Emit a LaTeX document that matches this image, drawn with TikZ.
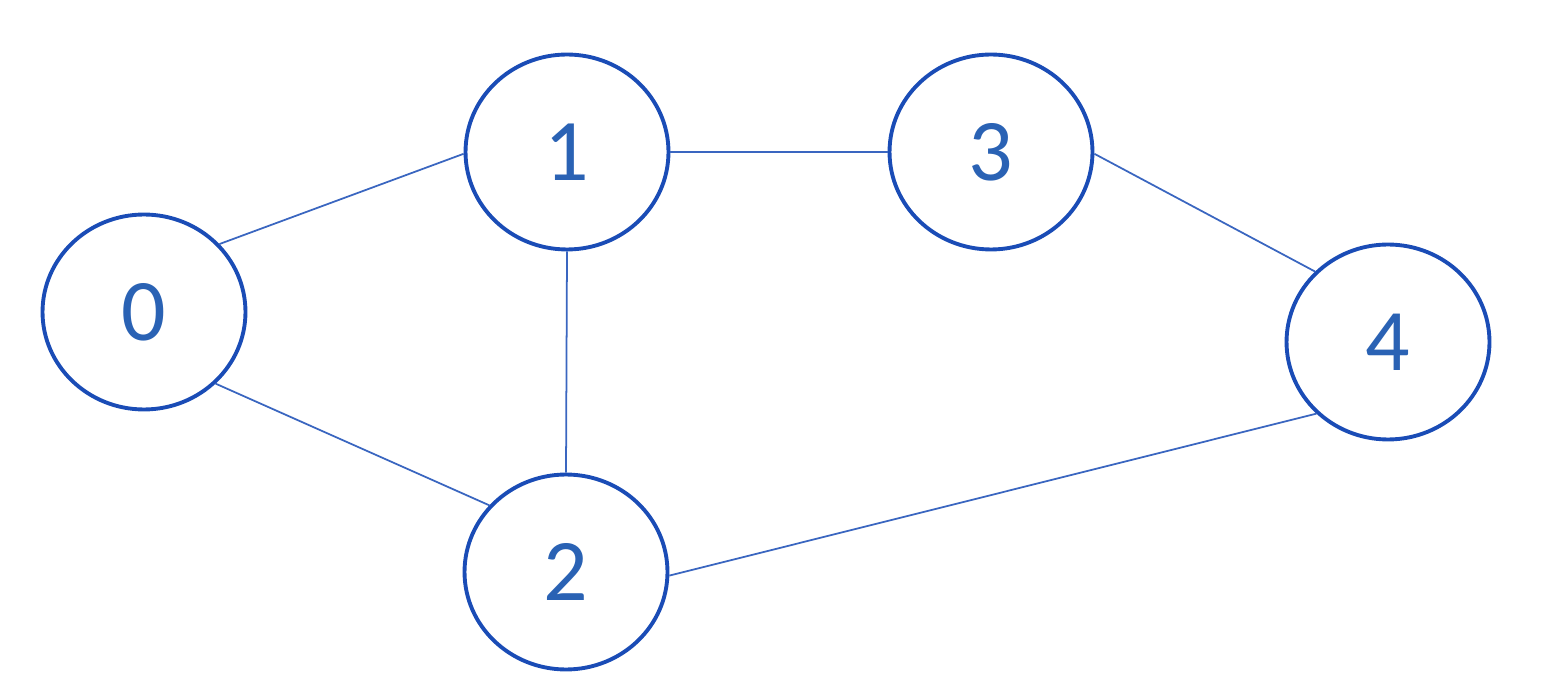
\documentclass[tikz,border=0pt]{standalone}
\usepackage{fontspec}
\setmainfont{Carlito}
\usepackage{xcolor}
\usetikzlibrary{shapes.geometric}
\definecolor{ringblue}{HTML}{1A4CB6}
\definecolor{digitblue}{HTML}{2A62B4}
\definecolor{edgeblue}{HTML}{3A66C0}

\begin{document}
\begin{tikzpicture}[x=0.02cm, y=-0.02cm,
  vtx/.style={draw=ringblue, ellipse, line width=2.2pt, fill=white,
              minimum width=4.06cm, minimum height=3.9cm, inner sep=0pt,
              text=digitblue, font=\fontsize{50}{50}\selectfont},
  edg/.style={draw=edgeblue, line width=1pt}]
\useasboundingbox (0,0) rectangle (1557,688);
\node[vtx] (n0) at (144,312) {0};
\node[vtx] (n1) at (567,152) {1};
\node[vtx] (n2) at (566,572) {2};
\node[vtx] (n3) at (991,152) {3};
\node[vtx] (n4) at (1388,342) {4};
\foreach \a/\b in {n0.42/n1.181, n0.315/n2.139, n1.east/n3.west,
                   n1.south/n2.north, n3.359/n4.136, n2.358/n4.225}
  \draw[edg] (\a) -- (\b);
\end{tikzpicture}
\end{document}
